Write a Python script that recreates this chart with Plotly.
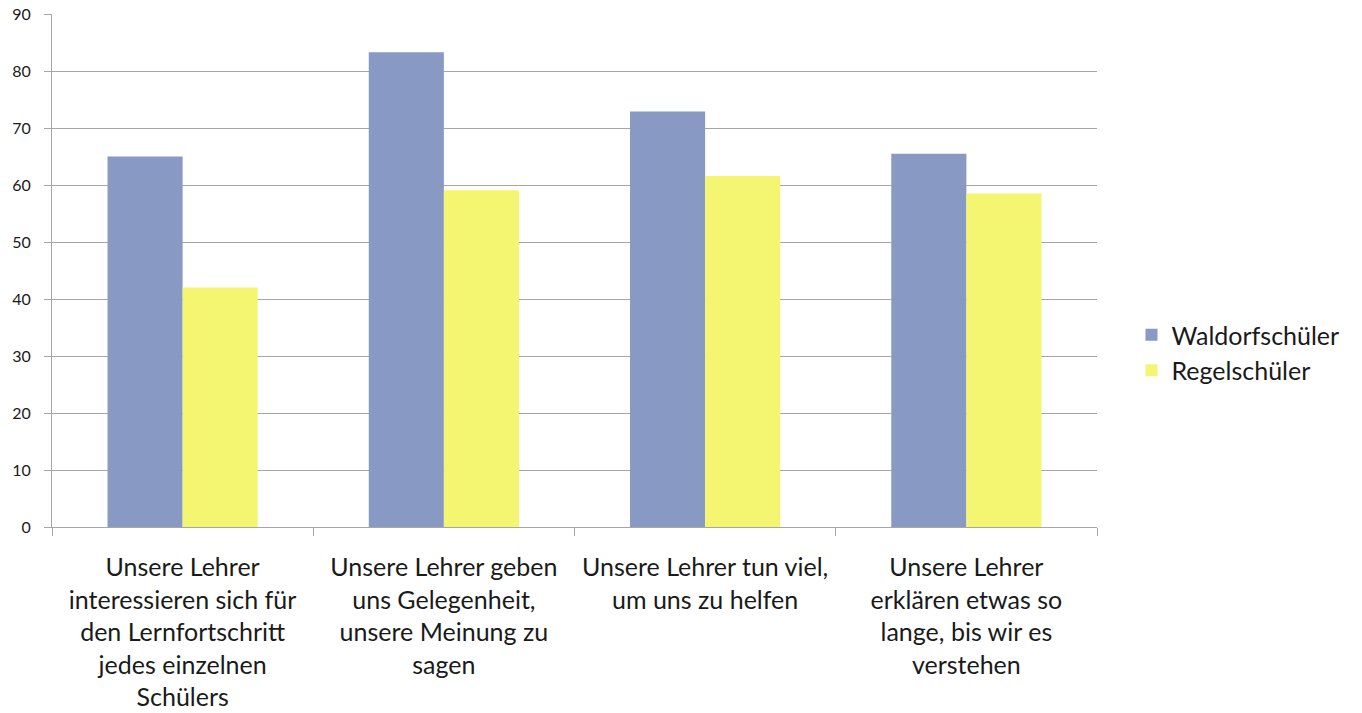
import plotly.graph_objects as go

categories = [
    "Unsere Lehrer<br>interessieren sich für<br>den Lernfortschritt<br>jedes einzelnen<br>Schülers",
    "Unsere Lehrer geben<br>uns Gelegenheit,<br>unsere Meinung zu<br>sagen",
    "Unsere Lehrer tun viel,<br>um uns zu helfen",
    "Unsere Lehrer<br>erklären etwas so<br>lange, bis wir es<br>verstehen",
]
waldorf = [65.0, 83.3, 72.9, 65.5]
regel = [42.0, 59.1, 61.6, 58.5]
y_ticks = [0, 10, 20, 30, 40, 50, 60, 70, 80, 90]

grid = "#a6a6a6"
fig = go.Figure()
fig.add_trace(go.Bar(x=categories, y=waldorf, name="Waldorfschüler",
                     marker=dict(color="#8899c4", line=dict(width=0))))
fig.add_trace(go.Bar(x=categories, y=regel, name="Regelschüler",
                     marker=dict(color="#f4f672", line=dict(width=0))))

fig.update_layout(
    width=1354, height=705,
    margin=dict(l=44, r=265, t=6, b=186),
    plot_bgcolor="white", paper_bgcolor="white",
    barmode="group", bargap=0.425, bargroupgap=0,
    font=dict(family="Lato, Open Sans, sans-serif", color="#1a1a1a"),
    legend=dict(x=1.033, y=0.34, xanchor="left", yanchor="middle",
                font=dict(size=25, color="#1a1a1a"), itemsizing="constant",
                tracegroupgap=0),
    showlegend=True,
)
fig.update_xaxes(
    tickson="boundaries", ticks="outside", ticklen=8, tickcolor=grid,
    showline=True, linecolor=grid, linewidth=1,
    tickfont=dict(size=25, color="#1a1a1a"), ticklabelstandoff=18,
    showgrid=False, automargin=False,
)
fig.update_yaxes(
    range=[0, 90], tickvals=y_ticks, ticks="outside", ticklen=7, tickcolor=grid,
    showline=True, linecolor=grid, linewidth=1,
    showgrid=True, gridcolor=grid, gridwidth=1,
    tickfont=dict(size=16, color="#1a1a1a"), ticklabelstandoff=10,
    ticklabeloverflow="allow",
    zeroline=False, automargin=False,
)
fig.write_html("out.html")
